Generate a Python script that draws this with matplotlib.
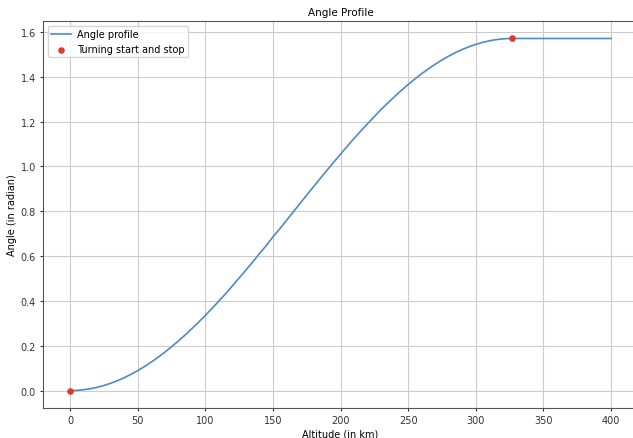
import matplotlib.pyplot as plt
import numpy as np

# altitude (km) and pitch angle (rad)
altitude = [0, 5, 10, 15, 20, 25, 30, 35, 40, 45, 50, 55, 60, 65, 70, 75,
            80, 85, 90, 95, 100, 105, 110, 115, 120, 125, 130, 135, 140, 145,
            150, 155, 160, 165, 170, 175, 180, 185, 190, 195, 200, 205, 210,
            215, 220, 225, 230, 235, 240, 245, 250, 255, 260, 265, 270, 275,
            280, 285, 290, 295, 300, 305, 310, 315, 320, 323, 327, 400]
angle = [0.0, 0.0009, 0.0036, 0.0081, 0.0145, 0.0225, 0.0324, 0.0440,
         0.0573, 0.0723, 0.0889, 0.1071, 0.1269, 0.1483, 0.1709, 0.1953,
         0.2207, 0.2476, 0.2757, 0.3047, 0.3354, 0.3667, 0.3994, 0.4321,
         0.4670, 0.5019, 0.5377, 0.5732, 0.6108, 0.6465, 0.6856, 0.7213,
         0.7590, 0.7967, 0.8344, 0.8720, 0.9093, 0.9464, 0.9831, 1.0194,
         1.0548, 1.0902, 1.1250, 1.1580, 1.1908, 1.2225, 1.2544, 1.2832,
         1.3120, 1.3394, 1.3654, 1.3902, 1.4136, 1.4355, 1.4560, 1.4748,
         1.4921, 1.5077, 1.5217, 1.5340, 1.5445, 1.5533, 1.5604, 1.5656,
         1.5690, 1.5702, 1.5708, 1.5708]

# turning start and stop
turn_alt = [0, 327]
turn_angle = [0.0, 1.5708]

plt.rcParams['font.size'] = 7
plt.rcParams['xtick.major.size'] = 2.5
plt.rcParams['ytick.major.size'] = 2.5
plt.rcParams['xtick.major.pad'] = 2.5
plt.rcParams['ytick.major.pad'] = 2.5
plt.rcParams['axes.labelpad'] = 2.8
plt.rcParams['xtick.color'] = '#333333'
plt.rcParams['ytick.color'] = '#333333'

fig = plt.figure(figsize=(6.33, 4.39), dpi=100)
ax = fig.add_axes([0.068, 0.068, 0.94, 0.882])

ax.plot(altitude, angle, color='#4f8ac4', linewidth=1.2, label='Angle profile')
ax.scatter(turn_alt, turn_angle, color='#e8352c', s=14, zorder=3,
           label='Turning start and stop')

ax.grid(True, color='#cccccc', linewidth=0.8)
ax.set_axisbelow(True)
ax.set_title('Angle Profile', fontsize=7.5, pad=4)
ax.set_xlabel('Altitude (in km)')
ax.set_ylabel('Angle (in radian)')
ax.set_xlim(-20, 420)
ax.set_ylim(-0.0785, 1.649)
ax.set_xticks(np.arange(0, 401, 50))
ax.set_yticks(np.arange(0, 1.61, 0.2))
for s in ax.spines.values():
    s.set_color('#555555')
ax.legend(loc='upper left', borderpad=0.35, handletextpad=0.6)

fig.savefig('out.png', dpi=100)
plt.close()
